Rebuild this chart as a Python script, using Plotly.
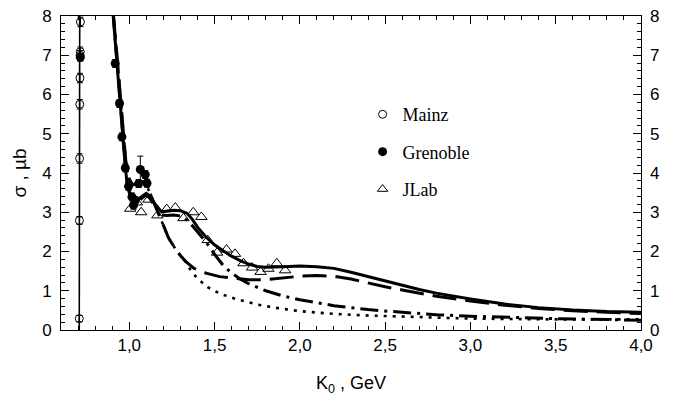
import plotly.graph_objects as go

# ---------------- data ----------------
mainz_x = [0.707, 0.708, 0.709, 0.710, 0.711, 0.712, 0.713, 0.714]
mainz_y = [0.29, 2.79, 4.37, 5.75, 6.42, 7.00, 7.09, 7.85]
mainz_err = [0.08, 0.1, 0.12, 0.12, 0.12, 0.12, 0.12, 0.12]

gren_x = [0.713, 0.918, 0.943, 0.957, 0.977, 0.996, 1.016, 1.025, 1.035, 1.055, 1.065, 1.094, 1.104]
gren_y = [6.95, 6.79, 5.77, 4.92, 4.13, 3.66, 3.39, 3.18, 3.30, 3.73, 4.09, 3.96, 3.74]
gren_err = [0.1, 0.1, 0.1, 0.1, 0.1, 0.1, 0.1, 0.1, 0.1, 0.1, 0.34, 0.1, 0.1]

jlab_x = [1.006, 1.045, 1.07, 1.113, 1.165, 1.22, 1.27, 1.318, 1.375, 1.423, 1.46, 1.515,
          1.57, 1.62, 1.67, 1.72, 1.77, 1.816, 1.865, 1.914]
jlab_y = [3.09, 3.25, 3.00, 3.32, 2.92, 3.08, 3.12, 2.85, 3.00, 2.88, 2.29, 1.97,
          2.05, 1.94, 1.70, 1.59, 1.48, 1.56, 1.70, 1.52]

thr_x = [0.7070, 0.7074, 0.7080, 0.7086, 0.7092, 0.7100]
thr_y = [0.0, 2.0, 4.0, 6.0, 8.0, 9.0]

full_x = [0.895, 0.906, 0.928, 0.947, 0.963, 0.977, 0.987, 1.0, 1.016, 1.035, 1.06, 1.085, 1.10,
          1.12, 1.15, 1.19, 1.22, 1.26, 1.30, 1.34, 1.37, 1.40, 1.45, 1.50, 1.55, 1.60, 1.65,
          1.70, 1.75, 1.80, 1.90, 2.00, 2.10, 2.20, 2.30, 2.40, 2.50, 2.60, 2.70, 2.80, 2.90,
          3.00, 3.20, 3.40, 3.60, 3.80, 4.00]
full_y = [8.9, 8.0, 6.8, 5.86, 4.91, 4.15, 3.75, 3.5, 3.32, 3.28, 3.36, 3.45, 3.48,
          3.42, 3.22, 3.01, 3.02, 3.05, 3.04, 2.97, 2.82, 2.62, 2.37, 2.17, 2.02, 1.88, 1.77,
          1.68, 1.62, 1.60, 1.61, 1.63, 1.61, 1.57, 1.47, 1.36, 1.24, 1.13, 1.03, 0.94, 0.86,
          0.79, 0.66, 0.57, 0.51, 0.47, 0.45]

ldash_x = [0.897, 0.908, 0.93, 0.95, 0.965, 0.98, 1.0, 1.02, 1.05, 1.08, 1.11, 1.14, 1.17, 1.20,
           1.23, 1.27, 1.30, 1.33, 1.38, 1.45, 1.53, 1.60, 1.70, 1.80, 1.90, 2.00, 2.10, 2.20,
           2.30, 2.40, 2.50, 2.60, 2.70, 2.80, 3.00, 3.20, 3.40, 3.60, 3.80, 4.00]
ldash_y = [8.9, 8.0, 6.9, 5.9, 5.0, 4.3, 3.85, 3.7, 3.72, 3.78, 3.6, 3.3, 3.0, 2.67,
           2.35, 2.07, 1.9, 1.75, 1.57, 1.45, 1.36, 1.32, 1.28, 1.28, 1.32, 1.37, 1.39, 1.37,
           1.30, 1.20, 1.10, 1.02, 0.94, 0.86, 0.74, 0.63, 0.55, 0.49, 0.45, 0.42]

dashdot_x = [0.896, 0.907, 0.929, 0.948, 0.964, 0.978, 0.99, 1.005, 1.02, 1.04, 1.06, 1.085, 1.10,
             1.12, 1.15, 1.19, 1.22, 1.26, 1.31, 1.35, 1.40, 1.45, 1.50, 1.55, 1.60, 1.65, 1.70,
             1.75, 1.80, 1.90, 2.00, 2.20, 2.40, 2.60, 2.80, 3.00, 3.20, 3.50, 4.00]
dashdot_y = [8.9, 8.0, 6.8, 5.86, 4.91, 4.15, 3.72, 3.45, 3.28, 3.24, 3.30, 3.40, 3.43,
             3.36, 3.15, 2.93, 2.92, 2.93, 2.90, 2.76, 2.50, 2.24, 1.93, 1.65, 1.45, 1.30, 1.18,
             1.09, 1.00, 0.87, 0.77, 0.62, 0.52, 0.45, 0.39, 0.35, 0.32, 0.29, 0.25]

dot_x = [0.897, 0.908, 0.93, 0.95, 0.965, 0.98, 1.0, 1.02, 1.05, 1.08, 1.11, 1.14, 1.17, 1.20,
         1.23, 1.27, 1.30, 1.33, 1.36, 1.40, 1.46, 1.53, 1.59, 1.65, 1.75, 1.85, 2.00, 2.20,
         2.40, 2.60, 2.80, 3.00, 3.50, 4.00]
dot_y = [8.9, 8.0, 6.9, 5.9, 5.0, 4.3, 3.85, 3.7, 3.72, 3.78, 3.6, 3.3, 3.0, 2.67,
         2.35, 2.07, 1.9, 1.75, 1.52, 1.31, 1.09, 0.93, 0.84, 0.76, 0.65, 0.57, 0.48, 0.41,
         0.37, 0.34, 0.31, 0.29, 0.27, 0.27]

legend_names = ["Mainz", "Grenoble", "JLab"]

# ---------------- figure ----------------
fig = go.Figure()

line_w = 3
fig.add_trace(go.Scatter(x=dot_x, y=dot_y, mode="lines", showlegend=False,
                         line=dict(color="black", width=2.6, dash="3px,6px")))
fig.add_trace(go.Scatter(x=dashdot_x, y=dashdot_y, mode="lines", showlegend=False,
                         line=dict(color="black", width=line_w, dash="18px,6px,3px,6px")))
fig.add_trace(go.Scatter(x=ldash_x, y=ldash_y, mode="lines", showlegend=False,
                         line=dict(color="black", width=line_w, dash="24px,9px")))
fig.add_trace(go.Scatter(x=full_x, y=full_y, mode="lines", showlegend=False,
                         line=dict(color="black", width=line_w)))
fig.add_trace(go.Scatter(x=thr_x, y=thr_y, mode="lines", showlegend=False,
                         line=dict(color="black", width=1.6)))

fig.add_trace(go.Scatter(
    x=mainz_x, y=mainz_y, mode="markers", showlegend=False,
    marker=dict(symbol="circle-open", size=8, color="black", line=dict(width=1)),
    error_y=dict(type="data", array=mainz_err, color="black", thickness=1, width=3)))
fig.add_trace(go.Scatter(
    x=gren_x, y=gren_y, mode="markers", showlegend=False,
    marker=dict(symbol="circle", size=9, color="black"),
    error_y=dict(type="data", array=gren_err, color="black", thickness=1, width=3)))
fig.add_trace(go.Scatter(
    x=jlab_x, y=jlab_y, mode="markers", showlegend=False,
    marker=dict(symbol="triangle-up-open", size=10, color="black", line=dict(width=1))))

# legend-only entries
leg_markers = [dict(symbol="circle-open", size=8, color="black", line=dict(width=1)),
               dict(symbol="circle", size=9, color="black"),
               dict(symbol="triangle-up-open", size=9, color="black", line=dict(width=1))]
for i, (nm, mk) in enumerate(zip(legend_names, leg_markers)):
    fig.add_trace(go.Scatter(x=[None], y=[None], mode="markers", name=nm, marker=mk,
                             legendgroup=f"g{i}", showlegend=True))

# dummy trace to carry the right axis
fig.add_trace(go.Scatter(x=[None], y=[None], yaxis="y2", showlegend=False, hoverinfo="skip"))

tickfont = dict(family="Liberation Sans, Arial, sans-serif", size=17, color="black")

fig.update_layout(
    width=676, height=396,
    margin=dict(l=61, r=35, t=16, b=66, autoexpand=False),
    paper_bgcolor="white", plot_bgcolor="white",
    separators=", ",
    font=dict(family="Liberation Sans, Arial, sans-serif", color="black"),
    xaxis=dict(range=[0.6, 4.0], showgrid=False, zeroline=False, automargin=False,
               showline=True, linecolor="black", linewidth=1, mirror="ticks",
               ticks="inside", ticklen=8, tickwidth=1, tickcolor="black",
               tick0=1.0, dtick=0.5, tickformat=".1f", tickfont=tickfont,
               minor=dict(ticks="inside", ticklen=4, dtick=0.1, tick0=0.6, tickcolor="black"),
               title=dict(text="K<sub>0</sub> , GeV", font=dict(size=18), standoff=22)),
    yaxis=dict(range=[0, 8], showgrid=False, zeroline=False, automargin=False,
               showline=True, linecolor="black", linewidth=1, mirror="ticks",
               ticks="inside", ticklen=8, tickwidth=1, tickcolor="black",
               dtick=1, tickfont=tickfont, ticklabelstandoff=5,
               minor=dict(ticks="inside", ticklen=4, dtick=0.2, tickcolor="black"),
               title=dict(text="σ , µb", font=dict(size=19), standoff=10)),
    yaxis2=dict(range=[0, 8], overlaying="y", side="right", showgrid=False, zeroline=False,
                automargin=False,
                showline=False, ticks="", dtick=1, tickfont=tickfont, ticklabelstandoff=8),
    legend=dict(x=0.52, y=0.745, xanchor="left", yanchor="top",
                font=dict(family="Liberation Serif, Times New Roman, serif", size=18, color="black"),
                tracegroupgap=11, bgcolor="rgba(0,0,0,0)", itemsizing="trace"),
)

fig.write_html("out.html")
